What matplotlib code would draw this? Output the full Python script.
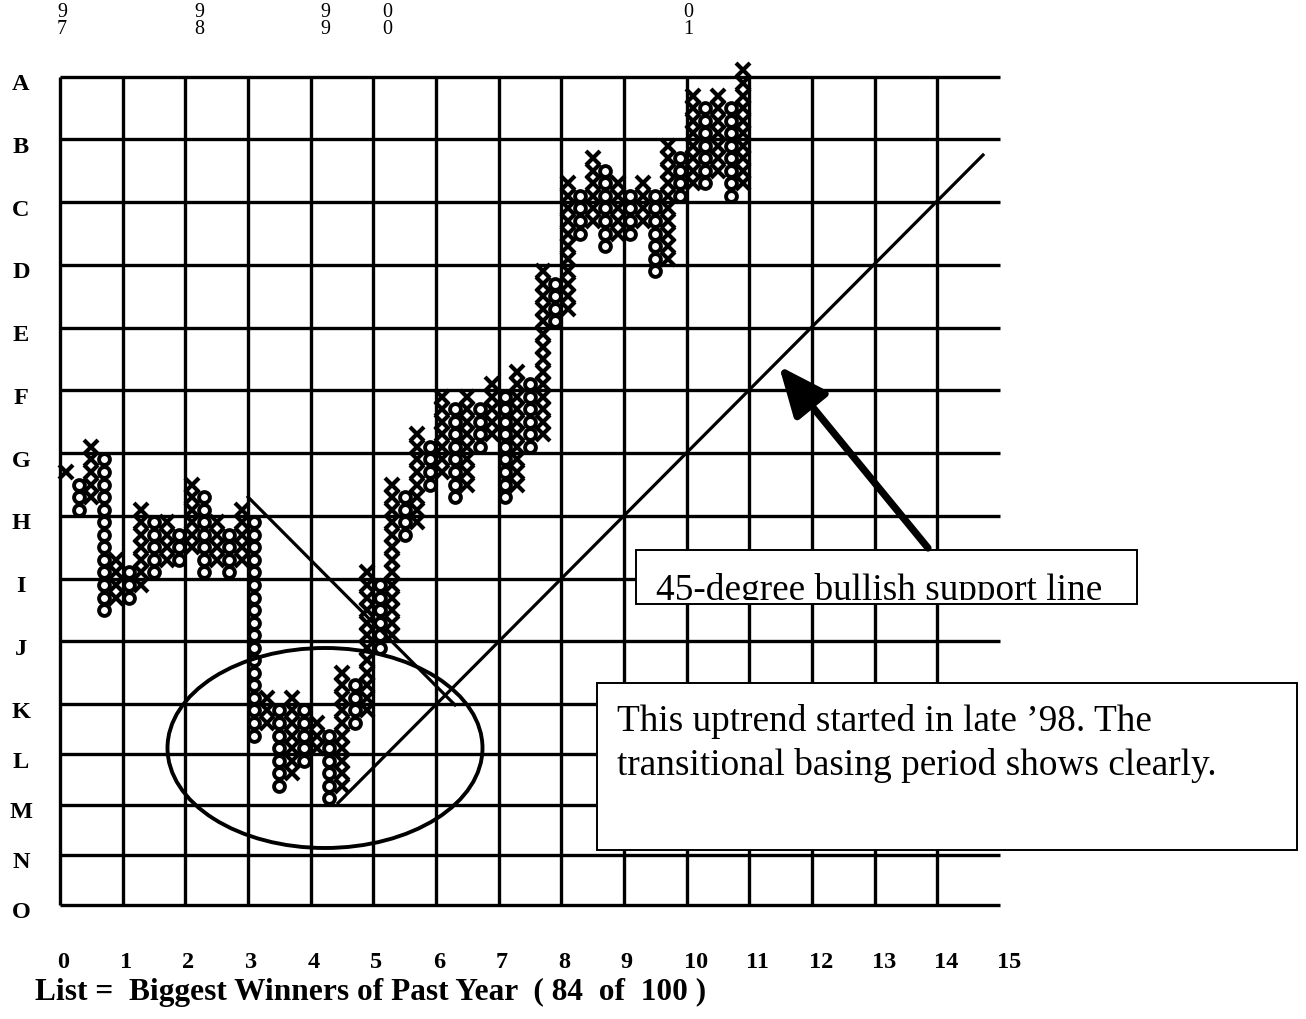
import matplotlib
matplotlib.use("Agg")
import matplotlib.pyplot as plt
from matplotlib.patches import Rectangle, Ellipse, FancyArrowPatch
from matplotlib.transforms import Bbox, TransformedBbox

# ---- point & figure data: one entry per column (kind, lowest box, highest box)
col_kind = list("XO" * 27 + "X")
col_low = [34, 31, 32, 23, 24, 24, 25, 26, 27, 27, 28, 26, 27, 26, 27, 13, 14, 9,
           10, 11, 12, 8, 9, 14, 15, 20, 21, 29, 30, 33, 34, 32, 33, 36, 37, 32,
           33, 36, 37, 46, 47, 53, 54, 52, 53, 53, 54, 50, 51, 56, 57, 57, 58, 56, 57]
col_high = [34, 33, 36, 35, 27, 26, 31, 30, 30, 29, 33, 32, 30, 29, 31, 30, 16, 15,
            16, 15, 14, 13, 18, 17, 26, 25, 33, 32, 37, 36, 40, 39, 40, 39, 41, 40,
            42, 41, 50, 49, 57, 56, 59, 58, 57, 56, 57, 56, 60, 59, 64, 63, 64, 63, 66]

# first column of each calendar year
year_labels = ["97", "98", "99", "00", "01"]
year_cols = [0, 11, 21, 26, 50]

# row grid (in boxes) and its letters
row_labels = list("ABCDEFGHIJKLMNO")
row_lines = [66, 61, 56, 51, 46, 41, 36, 31, 26, 21, 16, 12, 8, 4, 0]
x_labels = [str(i) for i in range(16)]
caption = "List =  Biggest Winners of Past Year  ( 84  of  100 )"

SERIF = "Liberation Serif"
W, H, DPI = 1306, 1019, 100
PX_COL, PX_BOX = 12.533, 12.55      # pixel size of one column / one box
X0, Y0 = 60, 905                     # pixel origin of the grid


def px(x, y):
    """pixel position -> (column, box) units"""
    return (x - X0) / PX_COL, (Y0 - y) / PX_BOX


fig = plt.figure(figsize=(W / DPI, H / DPI), dpi=DPI)
ax = fig.add_axes([0, 0, 1, 1])
ax.set_xlim(px(0, 0)[0], px(W, 0)[0])
ax.set_ylim(px(0, H)[1], px(0, 0)[1])
ax.axis("off")

# ---- grid
grid_lw = 2.4
for k in range(15):
    ax.plot([5 * k, 5 * k], [0, 66], color="black", lw=grid_lw, zorder=1,
            solid_capstyle="butt")
for pos in row_lines:
    ax.plot([0, 75], [pos, pos], color="black", lw=grid_lw, zorder=1,
            solid_capstyle="butt")

# ---- X and O columns
ox, oy, xx, xy = [], [], [], []
for i, (kind, lo, hi) in enumerate(zip(col_kind, col_low, col_high)):
    for b in range(lo, hi + 1):
        if kind == "O":
            ox.append(i + 0.5); oy.append(b + 0.5)
        else:
            xx.append(i + 0.5); xy.append(b + 0.5)
ax.plot(ox, oy, ls="none", marker="o", ms=7.8, mew=2.8, mfc="white",
        mec="black", zorder=3)
ax.plot(xx, xy, ls="none", marker="x", ms=9.4, mew=3.0, color="black", zorder=4)

# ---- trend lines, basing ellipse
ax.plot(*zip(px(338, 803), px(983, 155)), color="black", lw=2.3, zorder=5)
ax.plot(*zip(px(248, 497), px(455, 705)), color="black", lw=2.3, zorder=5)
ec, ey = px(325, 748)
ax.add_patch(Ellipse((ec, ey), 315 / PX_COL, 200 / PX_BOX, fill=False,
                     ec="black", lw=2.8, zorder=6))

# ---- annotation boxes
b1x0, b1y0 = px(636, 604)
b1x1, b1y1 = px(1137, 550)
ax.add_patch(Rectangle((b1x0, b1y0), b1x1 - b1x0, b1y1 - b1y0, fc="white",
                       ec="black", lw=1.4, zorder=7))
tx, ty = px(656, 600)
t1 = ax.text(tx, ty, "45-degree bullish support line", family=SERIF,
             fontsize=26.8, ha="left", va="baseline", zorder=8)
cx0, cy0 = px(637, 600)
cx1, cy1 = px(1136, 551)
t1.set_clip_box(TransformedBbox(Bbox([[cx0, cy0], [cx1, cy1]]), ax.transData))
t1.set_clip_on(True)

b2x0, b2y0 = px(597, 850)
b2x1, b2y1 = px(1297, 683)
ax.add_patch(Rectangle((b2x0, b2y0), b2x1 - b2x0, b2y1 - b2y0, fc="white",
                       ec="black", lw=1.4, zorder=7))
tx, ty = px(617, 731)
ax.text(tx, ty, "This uptrend started in late \u201998. The", family=SERIF,
        fontsize=26.8, ha="left", va="baseline", zorder=8)
tx, ty = px(617, 775)
ax.text(tx, ty, "transitional basing period shows clearly.", family=SERIF,
        fontsize=26.8, ha="left", va="baseline", zorder=8)

# ---- arrow pointing at the support line
arr = FancyArrowPatch(px(928, 548), px(779, 366),
                      arrowstyle="-|>,head_length=1.5,head_width=0.65",
                      mutation_scale=20, lw=5.2, color="black",
                      shrinkA=0, shrinkB=0, zorder=9)
ax.add_patch(arr)

# ---- axis letters and numbers
for lab, pos in zip(row_labels, row_lines):
    ax.text(px(21, 0)[0], pos - 8 / PX_BOX, lab, family=SERIF, fontsize=17.5,
            fontweight="bold", ha="center", va="center")
for i, lab in enumerate(x_labels):
    ax.text(5 * i - 0.25, px(0, 963)[1], lab, family=SERIF, fontsize=17.5,
            fontweight="bold", ha="left", va="center")

# stacked two-digit year markers above the first column of each year
for lab, c in zip(year_labels, year_cols):
    ax.text(c + 0.15, px(0, 21)[1], lab[0] + "\n" + lab[1], family=SERIF,
            fontsize=14.5, ha="center", va="center", linespacing=0.8)

cap = ax.text(px(35, 0)[0], px(0, 992)[1], caption, family=SERIF, fontsize=18,
              fontweight="bold", ha="left", va="center")
fig.canvas.draw()
w = cap.get_window_extent().width
cap.set_fontsize(18 * 670 / w)

fig.savefig("out.png", dpi=DPI)
